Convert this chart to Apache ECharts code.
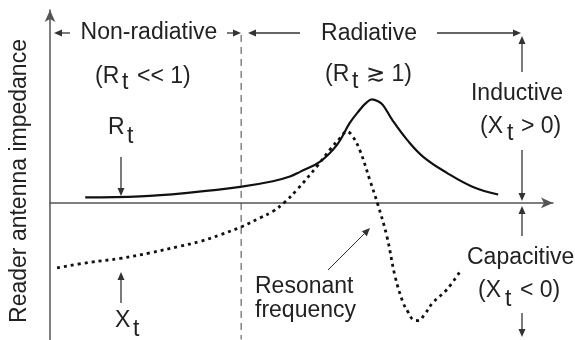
<!DOCTYPE html>
<html><head><meta charset="utf-8">
<script src="https://cdn.jsdelivr.net/npm/echarts@6/dist/echarts.min.js"></script>
<style>html,body{margin:0;padding:0;background:#fff}#c{width:575px;height:340px}</style>
</head><body><div id="c"></div>
<script>
// Frequency (arbitrary units) and impedance (arbitrary units)
const rtFreq = [0.70,1.79,2.78,3.78,4.43,4.77,4.97,5.37,5.71,5.96,6.16,6.28,6.40,6.52,6.62,6.82,7.10,7.42,7.89,8.41,8.91];
const rtVals = [0.06,0.07,0.11,0.17,0.23,0.28,0.33,0.44,0.62,0.85,0.99,1.06,1.10,1.08,1.04,0.87,0.67,0.49,0.32,0.17,0.09];
const xtFreq = [0.14,0.80,1.39,1.99,2.58,2.98,3.38,3.82,4.17,4.43,4.67,4.91,5.31,5.57,5.77,5.90,6.00,6.16,6.36,6.52,6.70,6.86,7.02,7.12,7.22,7.32,7.44,7.61,7.89,8.15];
const xtVals = [-0.69,-0.63,-0.59,-0.53,-0.46,-0.41,-0.34,-0.25,-0.16,-0.09,0.01,0.14,0.39,0.57,0.69,0.76,0.72,0.56,0.24,-0.02,-0.36,-0.78,-1.06,-1.16,-1.24,-1.25,-1.19,-1.06,-0.92,-0.73];
const boundaryFreq = 3.80;
const boundaryRange = [1.785, -1.45];

const chart = echarts.init(document.getElementById('c'));
const FONT = "'Liberation Sans', Arial, sans-serif";
const INK = '#222';
function txt(s, x, y, align, extra) {
  return Object.assign({type:'text', x:x, y:y, z:10, style:{text:s, font:'23px ' + FONT, fill:INK, align:align||'left', verticalAlign:'middle'}}, extra||{});
}
function arrow(x1,y1,x2,y2,w) {
  const dx=x2-x1, dy=y2-y1, L=Math.sqrt(dx*dx+dy*dy), ux=dx/L, uy=dy/L;
  const hl=8, hw=3.5;
  const bx=x2-ux*hl, by=y2-uy*hl;
  return [
    {type:'line', z:9, shape:{x1:x1,y1:y1,x2:bx,y2:by}, style:{stroke:'#333', lineWidth:w||1.3}},
    {type:'polygon', z:9, shape:{points:[[x2,y2],[bx-uy*hw,by+ux*hw],[bx+uy*hw,by-ux*hw]]}, style:{fill:'#333'}}
  ];
}
const g = [];
g.push(txt('Non-radiative',149,33,'center'));
g.push(txt('Radiative',369,34,'center'));
g.push(txt('(R',95,77)); g.push(txt('t',122,83)); g.push(txt('<< 1)',137,77));
g.push(txt('(R',325,75)); g.push(txt('t',352,82)); g.push(txt('\u2273 1)',366,75));
g.push(txt('Inductive',517,93.5,'center'));
g.push(txt('(X',480,126.5)); g.push(txt('t',507,134)); g.push(txt('> 0)',521,126.5));
g.push(txt('R',108,127.5)); g.push(txt('t',127,137));
g.push(txt('X',115,320.5)); g.push(txt('t',133,330));
g.push(txt('Resonant',255,286.5));
g.push(txt('frequency',255,310.5));
g.push(txt('Capacitive',467,257.5));
g.push(txt('(X',478,290.5)); g.push(txt('t',505,300)); g.push(txt('< 0)',520,290.5));
g.push(txt('Reader antenna impedance',20,181,'center',{rotation:Math.PI/2}));
[[70,33,54,33],[227,33,241,33],[300,33,248,33],[437,33,521,33],[522,72,522,36],[522,150,522,201],
 [522,236,522,206],[522,313,522,337],[121,157,121,196],[121,303,121,272]].forEach(a=>g.push(...arrow(a[0],a[1],a[2],a[3])));
g.push(...arrow(328,270,370,228,1));

chart.setOption({
  animation:false,
  grid:{left:50,right:22,top:10,bottom:0.6},
  xAxis:{type:'value',min:0,max:10,splitLine:{show:false},axisTick:{show:false},axisLabel:{show:false},
    axisLine:{lineStyle:{color:'#555',width:1.5},symbol:['none','arrow'],symbolSize:[8,12]}},
  yAxis:{type:'value',min:-1.45,max:2.05,splitLine:{show:false},axisTick:{show:false},axisLabel:{show:false},
    axisLine:{lineStyle:{color:'#555',width:1.5},symbol:['none','arrow'],symbolSize:[8,12]}},
  series:[
    {type:'line',data:rtFreq.map((f,i)=>[f,rtVals[i]]),smooth:0.4,showSymbol:false,lineStyle:{color:'#111',width:2.2}},
    {type:'line',data:xtFreq.map((f,i)=>[f,xtVals[i]]),smooth:0.4,showSymbol:false,lineStyle:{color:'#111',width:2.8,type:[3,4]}},
    {type:'line',data:boundaryRange.map(v=>[boundaryFreq,v]),showSymbol:false,lineStyle:{color:'#444',width:1,type:[7,5]}}
  ],
  graphic:g
});
</script></body></html>
